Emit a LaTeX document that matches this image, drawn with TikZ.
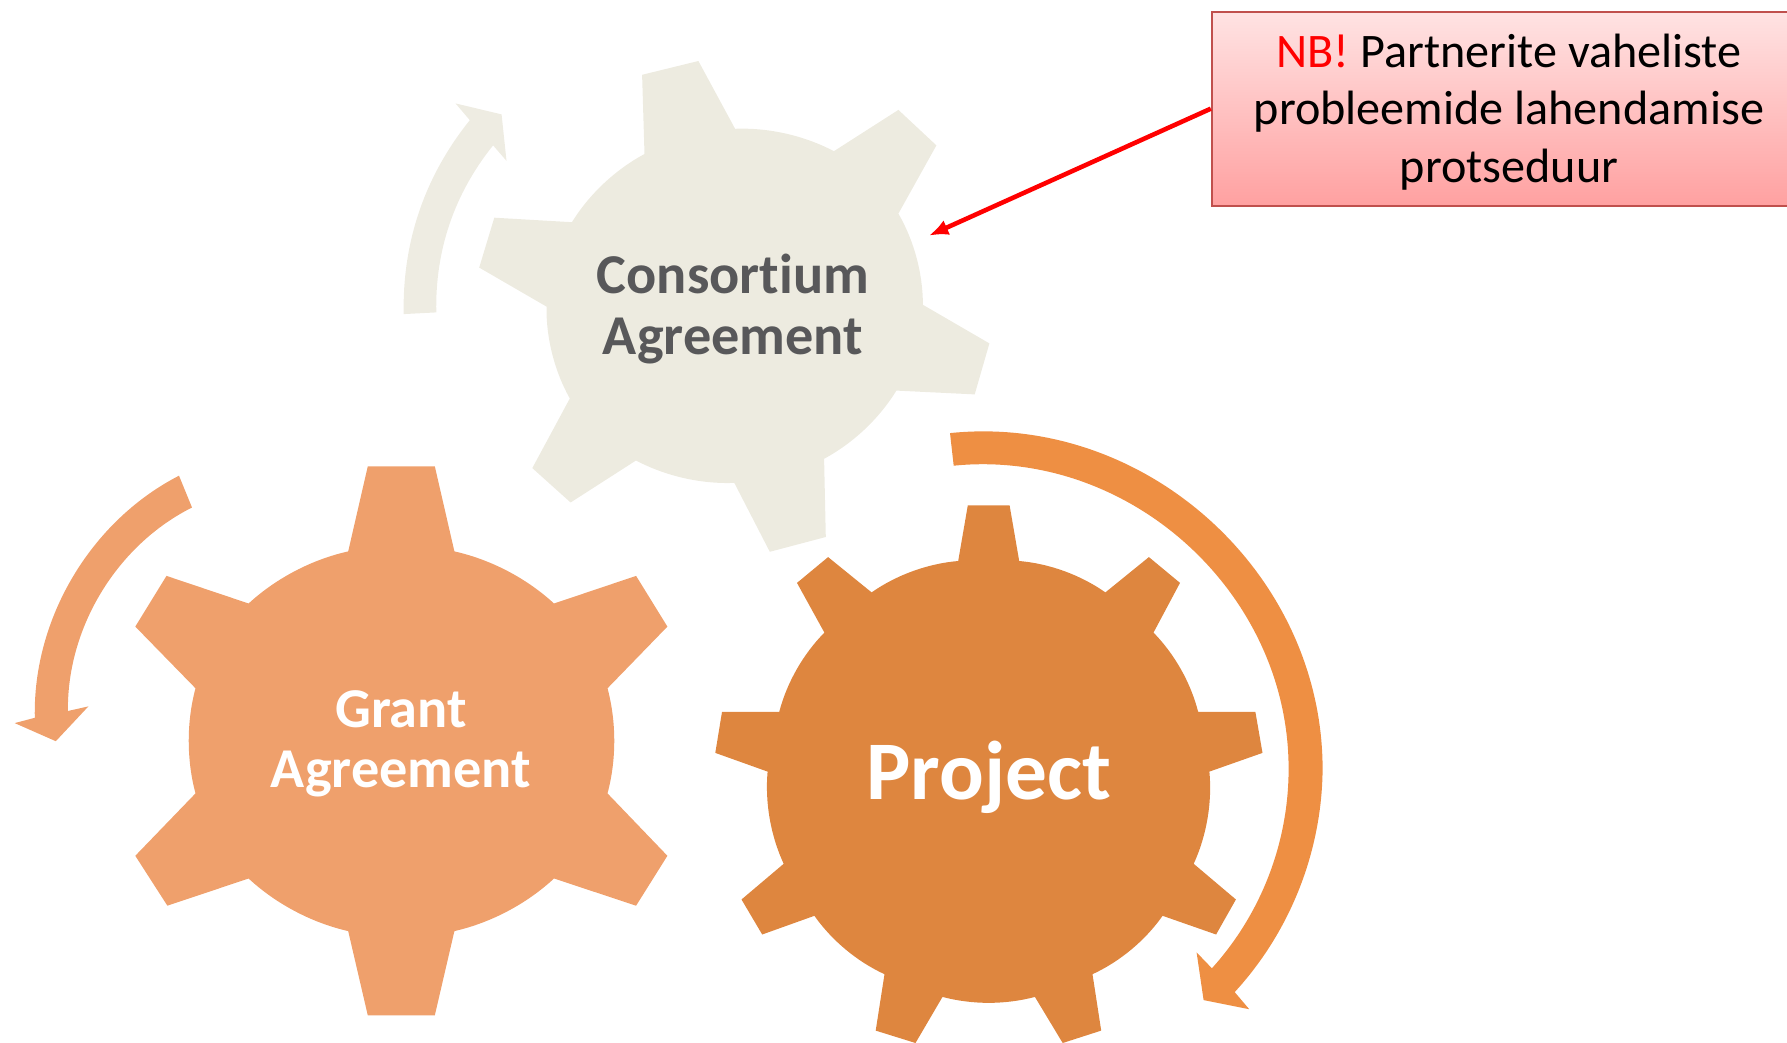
\documentclass[tikz,border=0pt]{standalone}
\usepackage{fontspec}
\setmainfont{Carlito}[Ligatures=NoCommon]
\usetikzlibrary{arrows.meta}
\definecolor{beige}{HTML}{EDEBE0}
\definecolor{beigearrow}{HTML}{EEECE2}
\definecolor{grantorange}{HTML}{EFA06C}
\definecolor{projectorange}{HTML}{DE863F}
\definecolor{ringorange}{HTML}{EE8F43}
\definecolor{labelgray}{HTML}{58585A}
\definecolor{noteborder}{HTML}{C0504D}
\tikzset{
  >=Latex,
  gear arc/.style={bend left=15,looseness=.85},
  gear label/.style={align=center,font=\bfseries\fontsize{16}{17.2}\selectfont},
  note box/.style={
    draw=noteborder,line width=.6pt,top color=red!11,bottom color=red!37,
    minimum width=169pt,minimum height=55.2pt,inner sep=0pt,text=black,align=center,
    font=\fontsize{13.7}{16.4}\selectfont
  }
}
\begin{document}
\begin{tikzpicture}[x=0.01cm,y=-0.01cm]
\clip (0,0) rectangle (1787,1043);
% consortium gear
\fill[beige] (644.5,154) -- (642.1,74.8) -- (698.4,61) -- (735.1,128.8)
  to[gear arc] (833.9,151.2) -- (898.4,109.9) -- (936.4,145.4) -- (898.4,213.6)
  to[gear arc] (922.9,304.8) -- (989.4,343.4) -- (974.7,394.4) -- (896.4,390.6)
  to[gear arc] (824.1,458.8) -- (825.8,537) -- (769.8,551.8) -- (734.3,482.9)
  to[gear arc] (636,460.5) -- (570.6,502.5) -- (532.3,468.1) -- (569.8,398.5)
  to[gear arc] (546.5,306.6) -- (479.2,267.6) -- (494.3,217.7) -- (571.9,222.2)
  to[gear arc] cycle;
\fill[beigearrow] (403.7,314.1) to[bend left=20,looseness=.9] (469.8,120.2)
  -- (455.5,103.4) -- (501.6,114.4) -- (506.5,160.9) -- (493.1,145.4)
  to[bend right=20,looseness=.9] (436.3,312.4) -- cycle;
% grant gear
\fill[grantorange] (348.2,551.4) -- (367.8,466.3) -- (434.8,466.3) -- (454.4,551.4)
  to[gear arc] (554,603.5) -- (636.1,575.9) -- (667.4,626.6) -- (607.5,688.3)
  to[gear arc] (607.5,793.4) -- (667.4,855.8) -- (636.1,905.7) -- (554,878.5)
  to[gear arc] (454.4,931.1) -- (434.8,1015.4) -- (367.8,1015.4) -- (348.2,931.1)
  to[gear arc] (248.6,878.5) -- (167.4,905.7) -- (135.3,855.8) -- (195.5,793.4)
  to[gear arc] (195.5,688.3) -- (135.3,626.6) -- (166.5,575.9) -- (248.6,603.5)
  to[gear arc] cycle;
\fill[grantorange] (179,475.7) to[bend right=32,looseness=.9] (34.8,717.8)
  -- (14.7,723.1) -- (55.8,741.2) -- (88.4,706.4) -- (67.9,711)
  to[bend left=32,looseness=.9] (192,507.5) -- cycle;
% project gear
\fill[projectorange] (958.2,561) -- (967.8,505.4) -- (1009.6,505.4) -- (1019.2,561)
  to[gear arc] (1105.4,592.4) -- (1148.9,557.1) -- (1180,582.9) -- (1153.5,632.6)
  to[gear arc] (1198.2,712) -- (1255.4,712) -- (1262.5,752.9) -- (1209.4,771.6)
  to[gear arc] (1193.7,863.8) -- (1235.9,899.5) -- (1216.1,934.5) -- (1162.6,915.8)
  to[gear arc] (1092.5,974.2) -- (1101.2,1030.6) -- (1062.7,1043) -- (1034.9,996.9)
  to[gear arc] (942.5,996.9) -- (915.5,1043) -- (875.7,1030.6) -- (884.5,974.2)
  to[gear arc] (814.4,915.8) -- (762.2,934.5) -- (741.5,899.5) -- (783.7,863.8)
  to[gear arc] (767.6,771.6) -- (715.3,752.9) -- (722,712) -- (779.2,712)
  to[gear arc] (824.4,632.6) -- (797,582.9) -- (828.1,557.1) -- (871.6,592.4)
  to[gear arc] cycle;
\fill[ringorange] (950,433.1) to[bend left=48] (1322.6,769.6)
  to[bend left=21,looseness=.88] (1234.7,992.1)
  -- (1249.2,1009.2) -- (1203.6,1000.1) -- (1196.6,952.4) -- (1211.9,968.3)
  to[bend right=21,looseness=.88] (1288.6,769.6)
  to[bend right=48] (953.7,465.7) -- cycle;
% labels
\node[gear label,text=labelgray] (consortium) at (733,309) {Consortium\\Agreement};
\node[gear label,text=white] (grant) at (401,744) {Grant\\Agreement};
\node[gear label,text=white,font=\bfseries\fontsize{23.7}{25}\selectfont] (project) at (989,777) {Project};
% note and its arrow
\coordinate (tip) at (929,235.6);
\node[note box] (note) at (1509,108.7) {\rule{0pt}{11.4pt}\textcolor{red}{NB!} Partnerite vaheliste\\probleemide lahendamise\\protseduur};
\draw[-{Latex[length=5.5pt,width=4.5pt]},red,line width=1.3pt] (note.west) -- (tip);
\end{tikzpicture}
\end{document}
